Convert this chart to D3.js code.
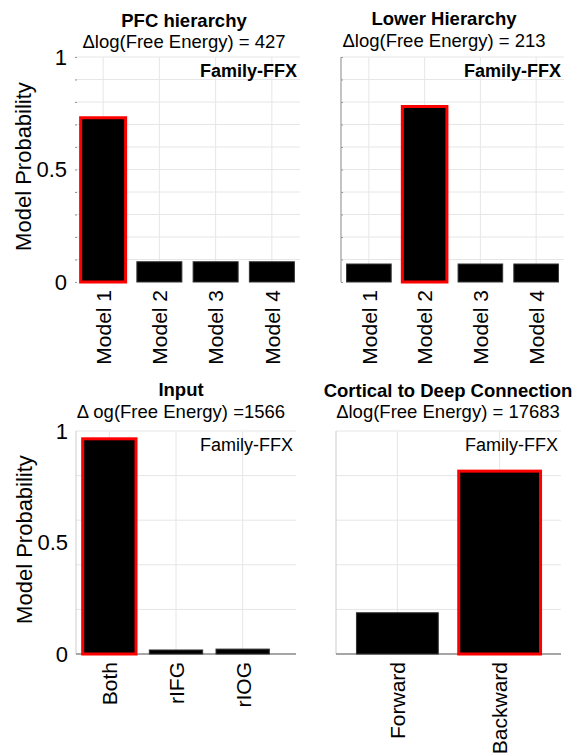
<!DOCTYPE html>
<html>
<head>
<meta charset="utf-8">
<script src="https://cdn.jsdelivr.net/npm/d3@7"></script>
<style>
  body { margin: 0; background: #fff; }
  svg { display: block; font-family: "Liberation Sans", Arial, sans-serif; }
</style>
</head>
<body>
<div id="chart"></div>
<script>
// values
const pfcLabels = ["Model 1", "Model 2", "Model 3", "Model 4"];
const pfcValues = [0.73, 0.09, 0.09, 0.09];
const lowerLabels = ["Model 1", "Model 2", "Model 3", "Model 4"];
const lowerValues = [0.08, 0.78, 0.08, 0.08];
const inputLabels = ["Both", "rIFG", "rIOG"];
const inputValues = [0.965, 0.018, 0.022];
const cortLabels = ["Forward", "Backward"];
const cortValues = [0.185, 0.82];
const yTicks = [0, 0.5, 1];

const svg = d3.select('#chart').append('svg')
  .attr('width', 576)
  .attr('height', 756);

function panel(opt){
  const x = d3.scaleLinear().domain(opt.xdom).range([opt.x0, opt.x1]);
  const y = d3.scaleLinear().domain([0, 1]).range([opt.y0, opt.y1]);
  const g = svg.append('g');
  const data = opt.values.map((v, i) => ({v: v, i: i + 1, label: opt.labels[i]}));

  //grid
  g.selectAll('.hgrid').data(d3.range(opt.gridStep, 1.0001, opt.gridStep))
    .enter().append('line')
    .attr('x1', opt.x0).attr('x2', opt.x1)
    .attr('y1', d => y(d)).attr('y2', d => y(d))
    .style('stroke', '#e6e6e6');
  g.selectAll('.vgrid').data(data)
    .enter().append('line')
    .attr('x1', d => x(d.i)).attr('x2', d => x(d.i))
    .attr('y1', opt.y0).attr('y2', opt.y1)
    .style('stroke', '#e6e6e6');

  //axis lines
  if (opt.leftLine) g.append('line')
    .attr('x1', opt.x0).attr('x2', opt.x0).attr('y1', opt.y0).attr('y2', opt.y1)
    .style('stroke', opt.leftLine);
  if (opt.bottomLine) g.append('line')
    .attr('x1', opt.x0).attr('x2', opt.x1).attr('y1', opt.y0).attr('y2', opt.y0)
    .style('stroke', opt.bottomLine).style('stroke-width', 1.5);

  //minor ticks
  if (opt.minor) {
    const ax = g.append('g')
      .attr('transform', `translate(${opt.x0 + 2},0)`)
      .call(d3.axisLeft(y).tickValues(d3.range(0, 1.0001, 0.1)).tickSize(2).tickFormat(''));
    ax.select('.domain').remove();
    ax.selectAll('line').style('stroke', '#999');
  }

  //tick labels
  if (opt.yLabels) {
    const ay = g.append('g')
      .attr('transform', `translate(${opt.x0},0)`)
      .call(d3.axisLeft(y).tickValues(yTicks).tickSize(0).tickPadding(8)
        .tickFormat(d => d === 0 ? '0' : d === 1 ? '1' : '0.5'));
    ay.select('.domain').remove();
    ay.selectAll('text').style('font-size', '22px').style('fill', '#000');
    g.append('text')
      .attr('transform', `translate(${opt.x0 - 44},${(opt.y0 + opt.y1) / 2 - 3}) rotate(-90)`)
      .attr('text-anchor', 'middle')
      .style('font-size', '22px')
      .style('fill', '#000')
      .text('Model Probability');
  }

  //bars
  const bw = (x(2) - x(1)) * 0.8;
  g.selectAll('.bar').data(data)
    .enter().append('rect')
    .attr('x', d => x(d.i) - bw / 2)
    .attr('width', bw)
    .attr('y', d => y(d.v))
    .attr('height', d => opt.y0 - y(d.v))
    .style('fill', 'black')
    .style('stroke', (d, i) => i === opt.best ? '#ff0000' : '#333')
    .style('stroke-width', (d, i) => i === opt.best ? 3 : 1);

  //x labels
  const axb = g.append('g')
    .attr('transform', `translate(0,${opt.y0})`)
    .call(d3.axisBottom(x).tickValues(data.map(d => d.i)).tickSize(0)
      .tickFormat(d => opt.labels[d - 1]));
  axb.select('.domain').remove();
  axb.selectAll('text')
    .attr('transform', 'rotate(-90)')
    .attr('x', -8)
    .attr('y', 0)
    .attr('dy', '0.35em')
    .style('text-anchor', 'end')
    .style('font-size', '21px')
    .style('fill', '#000');

  //titles
  const cx = opt.titleX;
  g.append('text').attr('x', cx).attr('y', opt.t1)
    .attr('text-anchor', 'middle').style('font-size', '18.5px').style('font-weight', 'bold')
    .style('fill', '#000').text(opt.title);
  g.append('text').attr('x', cx).attr('y', opt.t2)
    .attr('text-anchor', 'middle').style('font-size', '18.5px')
    .style('fill', '#000').text(opt.sub);
  g.append('text').attr('x', opt.x1 - 3).attr('y', opt.y1 + 20)
    .attr('text-anchor', 'end').style('font-size', '18px')
    .style('font-weight', opt.ffxBold ? 'bold' : 'normal')
    .style('fill', '#000').text('Family-FFX');
}

panel({labels: pfcLabels, values: pfcValues, best: 0,
  xdom: [0.5, 4.5], x0: 75, x1: 300, y0: 282, y1: 57,
  gridStep: 0.1, minor: true, yLabels: true, ffxBold: true,
  title: 'PFC hierarchy', sub: '\u0394log(Free Energy) = 427', titleX: 184, t1: 27, t2: 48});

panel({labels: lowerLabels, values: lowerValues, best: 1,
  xdom: [0.5, 4.5], x0: 341, x1: 564, y0: 282, y1: 57,
  gridStep: 0.1, minor: true, yLabels: false, ffxBold: true, leftLine: '#888',
  title: 'Lower Hierarchy', sub: '\u0394log(Free Energy) = 213', titleX: 444, t1: 25, t2: 47});

panel({labels: inputLabels, values: inputValues, best: 0,
  xdom: [0.5, 3.8], x0: 76, x1: 296, y0: 654, y1: 431,
  gridStep: 0.2, minor: false, yLabels: true, ffxBold: false,
  leftLine: '#ccc', bottomLine: '#888',
  title: 'Input', sub: '\u0394 og(Free Energy) =1566', titleX: 181, t1: 396, t2: 418});

panel({labels: cortLabels, values: cortValues, best: 1,
  xdom: [0.4, 2.6], x0: 336, x1: 561, y0: 654, y1: 431,
  gridStep: 0.2, minor: false, yLabels: false, ffxBold: false,
  leftLine: '#ccc', bottomLine: '#888',
  title: 'Cortical to Deep Connection', sub: '\u0394log(Free Energy) = 17683', titleX: 448, t1: 397, t2: 418});
</script>
</body>
</html>
